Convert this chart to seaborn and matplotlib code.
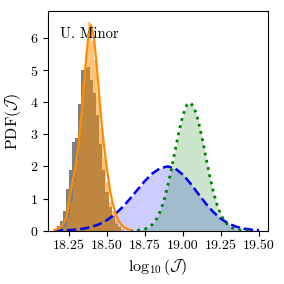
import numpy as np
import pandas as pd
import matplotlib
matplotlib.use("Agg")
import matplotlib.pyplot as plt
import seaborn as sns

# gray histogram (bin edges / density heights)
gray_edges = np.round(np.arange(18.17, 18.591, 0.02), 3)
gray_heights = [0.15, 0.30, 0.60, 1.30, 1.90, 2.75, 2.90, 3.95, 5.00, 5.05, 5.10,
                4.70, 4.30, 3.60, 2.70, 1.90, 1.20, 0.75, 0.45, 0.22, 0.10]

# orange histogram
orange_edges = np.round(np.arange(18.215, 18.6151, 0.02), 3)
orange_heights = [0.10, 0.40, 0.90, 1.50, 2.20, 3.40, 4.60, 5.50, 6.50, 5.90,
                  5.30, 4.20, 3.20, 2.30, 1.50, 0.90, 0.60, 0.30, 0.15, 0.05]

# orange pdf curve
orange_x = np.round(np.arange(18.155, 18.6551, 0.02), 3)
orange_y = [0.02, 0.05, 0.10, 0.22, 0.45, 1.10, 1.55, 2.05, 2.75, 3.75, 4.95, 5.95, 6.40,
            6.00, 5.00, 3.85, 2.85, 2.10, 1.40, 0.90, 0.55, 0.32, 0.18, 0.10, 0.05, 0.02]

# blue pdf curve
blue_x = np.round(np.arange(18.15, 19.501, 0.05), 3)
blue_y = [0.0034, 0.0077, 0.017, 0.034, 0.065, 0.118, 0.201, 0.326, 0.499, 0.721,
          0.985, 1.271, 1.550, 1.786, 1.944, 2.000, 1.932, 1.741, 1.464, 1.149,
          0.842, 0.575, 0.367, 0.218, 0.121, 0.063, 0.030, 0.014]

# green pdf curve
green_x = np.round(np.arange(18.65, 19.4501, 0.025), 3)
green_y = [0.0016, 0.0042, 0.0104, 0.0239, 0.0514, 0.104, 0.198, 0.355, 0.596, 0.940,
           1.395, 1.942, 2.542, 3.123, 3.606, 3.911, 3.985, 3.814, 3.430, 2.897,
           2.300, 1.714, 1.200, 0.790, 0.488, 0.283, 0.154, 0.079, 0.038, 0.0172,
           0.0073, 0.0029, 0.0011]

x_ticks = [18.25, 18.50, 18.75, 19.00, 19.25, 19.50]
x_ticklabels = ["18.25", "18.50", "18.75", "19.00", "19.25", "19.50"]

plt.rcParams['font.family'] = 'serif'
plt.rcParams['font.serif'] = ['cmr10']
plt.rcParams['mathtext.fontset'] = 'cm'
plt.rcParams['axes.formatter.use_mathtext'] = True

fig = plt.figure(figsize=(2.84, 2.84), dpi=100)
ax = fig.add_axes([0.169, 0.188, 0.773, 0.772])

# blue and green curves with shading
sns.lineplot(x=blue_x, y=blue_y, color='blue', linestyle='--', linewidth=1.8, ax=ax)
ax.fill_between(blue_x, blue_y, color='blue', alpha=0.2, linewidth=0)
sns.lineplot(x=green_x, y=green_y, color='green', linestyle=':', linewidth=2, ax=ax)
ax.fill_between(green_x, green_y, color='green', alpha=0.2, linewidth=0)

# histograms
gray_df = pd.DataFrame({'c': (gray_edges[:-1] + gray_edges[1:]) / 2, 'w': gray_heights})
sns.histplot(data=gray_df, x='c', weights='w', bins=list(gray_edges), color='gray',
             alpha=1, linewidth=0, ax=ax)
orange_df = pd.DataFrame({'c': (orange_edges[:-1] + orange_edges[1:]) / 2, 'w': orange_heights})
sns.histplot(data=orange_df, x='c', weights='w', bins=list(orange_edges), color='darkorange',
             alpha=0.5, linewidth=0, ax=ax)
sns.lineplot(x=orange_x, y=orange_y, color='darkorange', linewidth=1.6, ax=ax)

ax.text(0.055, 0.88, "U. Minor", transform=ax.transAxes, fontsize=10.5, va='baseline')

ax.set_xlim(18.112, 19.556)
ax.set_ylim(0, 6.83)
ax.set_xticks(x_ticks)
ax.set_xticklabels(x_ticklabels)
ax.set_yticks(range(7))
ax.tick_params(labelsize=10)
ax.set_xlabel(r"$\log_{10}(\mathcal{J})$", fontsize=11.5, labelpad=3)
ax.set_ylabel(r"PDF($\mathcal{J}$)", fontsize=11.5, labelpad=5)

fig.savefig("out.png", dpi=100)
